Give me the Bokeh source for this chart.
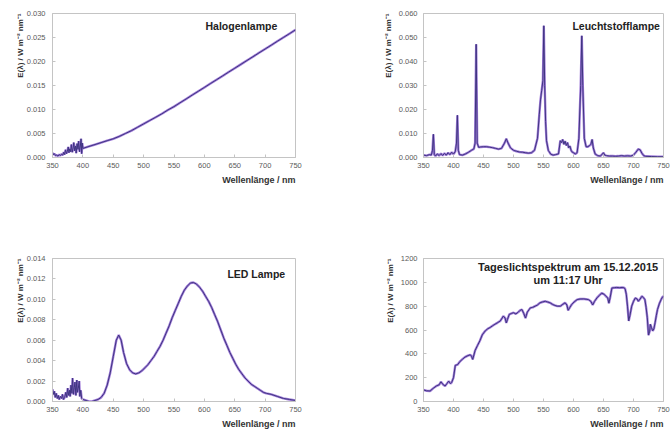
from bokeh.plotting import figure
from bokeh.layouts import column, row
from bokeh.models import FixedTicker, NumeralTickFormatter, Label, Title, Range1d
from bokeh.embed import file_html
from bokeh.resources import INLINE

FONT = "Liberation Sans"

# ---------------- data ----------------
wavelength_ticks = [350, 400, 450, 500, 550, 600, 650, 700, 750]

halogen_nm = [350, 351.5, 353, 355, 357, 359, 361, 363, 365, 367, 368.5, 370, 371.5, 373,
              374.5, 376, 377, 378.5, 380, 381, 382.5, 384, 385, 386.5, 388, 389, 390.5,
              392, 393, 394.5, 396, 397, 398, 399, 400, 410, 420, 430,
              440, 450, 460, 470, 480, 490, 500, 510, 520, 530, 540, 550, 560, 570,
              580, 590, 600, 610, 620, 630, 640, 650, 660, 670, 680, 690, 700, 710,
              720, 730, 740, 750]
halogen_E = [0.0010, 0.0006, 0.0008, 0.0004, 0.0005, 0.0003, 0.0006, 0.0004, 0.0007,
             0.0005, 0.0011, 0.0006, 0.0016, 0.0008, 0.0013, 0.0022, 0.0010, 0.0018,
             0.0012, 0.0027, 0.0011, 0.0020, 0.0031, 0.0014, 0.0024, 0.0009, 0.0029,
             0.0017, 0.0034, 0.0012, 0.0026, 0.0039, 0.0008, 0.0030, 0.0019, 0.0023,
             0.0027, 0.0031, 0.0035, 0.0039, 0.0044, 0.0050, 0.0056, 0.0063, 0.0070,
             0.0077, 0.0084, 0.0091, 0.0099, 0.0106, 0.0114, 0.0122, 0.0130, 0.0138,
             0.0146, 0.0154, 0.0162, 0.0170, 0.0178, 0.0186, 0.0194, 0.0202, 0.0210,
             0.0218, 0.0226, 0.0234, 0.0242, 0.0250, 0.0258, 0.0266]

fluor_nm = [350, 355, 360, 363, 365, 366.5, 368, 370, 373, 376, 379, 382, 385, 388, 391,
            394, 397, 400, 403, 405, 406.5, 408, 410, 415, 420, 425, 430, 434, 436,
            437.8, 439.5, 442, 445, 450, 455, 460, 465, 470, 475, 480, 485, 488, 491,
            495, 500, 505, 510, 515, 520, 525, 530, 535, 540, 543, 545, 547, 549,
            550.5, 552, 553.5, 555, 558, 562, 566, 570, 575, 578, 580, 582, 584, 586,
            588, 590, 592, 594, 596, 598, 600, 603, 606, 609, 612, 613.8, 615.5, 618,
            621, 624, 627, 629, 631, 633, 636, 640, 645, 650, 652, 655, 660, 665, 670,
            675, 680, 685, 690, 695, 700, 704, 708, 711, 714, 717, 720, 730, 740, 750]
fluor_E = [0.0010, 0.0008, 0.0012, 0.0010, 0.0030, 0.0097, 0.0012, 0.0006, 0.0015,
           0.0008, 0.0016, 0.0009, 0.0017, 0.0010, 0.0020, 0.0012, 0.0022, 0.0014,
           0.0025, 0.0060, 0.0176, 0.0030, 0.0012, 0.0010, 0.0015, 0.0022, 0.0030,
           0.0036, 0.0060, 0.0472, 0.0060, 0.0042, 0.0044, 0.0045, 0.0045, 0.0043,
           0.0041, 0.0038, 0.0035, 0.0038, 0.0060, 0.0078, 0.0060, 0.0040, 0.0030,
           0.0026, 0.0023, 0.0022, 0.0020, 0.0018, 0.0020, 0.0030, 0.0080, 0.0180,
           0.0240, 0.0280, 0.0320, 0.0549, 0.0300, 0.0150, 0.0070, 0.0030, 0.0014,
           0.0010, 0.0012, 0.0015, 0.0070, 0.0062, 0.0075, 0.0055, 0.0068, 0.0050,
           0.0062, 0.0040, 0.0048, 0.0030, 0.0022, 0.0020, 0.0015, 0.0020, 0.0080,
           0.0300, 0.0507, 0.0300, 0.0080, 0.0045, 0.0045, 0.0050, 0.0055, 0.0075,
           0.0040, 0.0015, 0.0008, 0.0006, 0.0020, 0.0010, 0.0008, 0.0006, 0.0006,
           0.0005, 0.0006, 0.0008, 0.0006, 0.0007, 0.0006, 0.0010, 0.0022, 0.0035,
           0.0032, 0.0018, 0.0008, 0.0005, 0.0004, 0.0003, 0.0003]

led_nm = [350, 351.5, 353, 354.5, 356, 358, 359.5, 361, 363, 365, 366.5, 368, 370,
          372, 373.5, 375, 376.5, 378, 379, 380.5, 382, 383, 384.5, 386, 387, 388.5,
          390, 391, 392.5, 394, 395, 396.5, 398, 400, 405, 410, 415, 420,
          425, 430, 435, 440, 445, 450, 455, 459, 463, 467, 472, 477, 482, 487, 492,
          497, 502, 507, 512, 517, 522, 527, 532, 537, 542, 547, 552, 557, 562, 567,
          572, 577, 582, 587, 592, 597, 602, 607, 612, 617, 622, 627, 632, 637, 642,
          647, 652, 657, 662, 667, 672, 677, 682, 687, 692, 697, 702, 710, 720, 730,
          740, 750]
led_E = [0.0012, 0.0007, 0.0010, 0.0004, 0.0008, 0.0003, 0.0006, 0.0002, 0.0005,
         0.0003, 0.0007, 0.0002, 0.0004, 0.0009, 0.0004, 0.0013, 0.0006, 0.0011,
         0.0005, 0.0016, 0.0008, 0.0023, 0.0007, 0.0014, 0.0019, 0.0006, 0.0021,
         0.0009, 0.0013, 0.0020, 0.0005, 0.0011, 0.0003, 0.0002, 0.0001,
         0.0000, 0.0000, 0.0001, 0.0002, 0.0004, 0.0008, 0.0016, 0.0028, 0.0044,
         0.0060, 0.0065, 0.0060, 0.0048, 0.0037, 0.0031, 0.0028, 0.0027, 0.0028,
         0.0030, 0.0033, 0.0036, 0.0040, 0.0044, 0.0049, 0.0054, 0.0060, 0.0067,
         0.0074, 0.0082, 0.0089, 0.0096, 0.0103, 0.0109, 0.0113, 0.0116, 0.01165,
         0.0115, 0.0112, 0.0108, 0.0103, 0.0098, 0.0092, 0.0085, 0.0078, 0.0070,
         0.0062, 0.0055, 0.0048, 0.0042, 0.0036, 0.0031, 0.0027, 0.0023, 0.0020,
         0.0017, 0.0015, 0.0013, 0.0011, 0.0009, 0.0008, 0.0007, 0.0005, 0.0003,
         0.0002, 0.0001]

day_nm = [350, 355, 361, 366, 372, 376, 379, 383, 386, 389, 392, 395, 397, 400, 403,
          407, 411, 415, 419, 424, 428, 430, 432, 434, 436, 440, 444, 448, 453, 457,
          461, 465, 469, 473, 478, 481, 483, 486, 488, 490, 493, 497, 500, 504, 508,
          511, 514, 517, 520, 523, 528, 532, 536, 540, 544, 548, 553, 557, 561, 565,
          569, 573, 578, 582, 586, 589, 591, 594, 597, 601, 606, 611, 617, 621, 625,
          629, 632, 635, 639, 643, 647, 651, 654, 657, 659, 661, 664, 668, 672, 677,
          681, 684, 686, 688, 690, 692, 694, 697, 700, 703, 706, 708, 711, 714, 717,
          719, 721, 723, 725, 727, 728, 730, 732, 734, 736, 738, 740, 743, 746, 748,
          750]
day_E = [97, 90, 88, 110, 132, 140, 165, 140, 130, 150, 171, 150, 160, 200, 303, 310,
         337, 355, 372, 385, 392, 380, 353, 390, 428, 470, 510, 560, 593, 610, 621, 635,
         648, 660, 676, 700, 717, 700, 660, 690, 731, 740, 745, 735, 750, 765, 772, 740,
         700, 750, 786, 790, 800, 810, 828, 835, 841, 835, 828, 815, 806, 800, 800, 815,
         828, 810, 765, 790, 814, 835, 855, 860, 861, 858, 855, 840, 810, 840, 869, 890,
         910, 900, 883, 870, 825, 870, 952, 955, 957, 955, 957, 955, 946, 900, 800, 676,
         720, 800, 840, 869, 860, 841, 860, 883, 870, 855, 790, 703, 557, 590, 648, 620,
         593, 610, 662, 720, 772, 820, 855, 875, 883]

y_label = "E(λ) / W m⁻² nm⁻¹"
x_label = "Wellenlänge / nm"


def panel(xs, ys, y_end, y_ticks, y_fmt, left, top, right, bottom, fw, fh,
          ylabel_standoff, tick_gap):
    p = figure(width=left + fw + right, height=top + fh + bottom,
               frame_width=fw, frame_height=fh,
               min_border_left=left, min_border_right=right,
               min_border_top=top, min_border_bottom=bottom,
               x_range=Range1d(350, 750), y_range=Range1d(0, y_end),
               output_backend="svg", toolbar_location=None)
    p.grid.visible = False
    p.outline_line_color = "#c4c4c4"
    p.background_fill_color = "white"
    p.border_fill_color = "white"

    for ax in (p.xaxis[0], p.yaxis[0]):
        ax.axis_line_color = "#c4c4c4"
        ax.major_tick_line_color = "#c4c4c4"
        ax.major_tick_in = 3
        ax.major_tick_out = 0
        ax.minor_tick_line_color = None
        ax.major_label_text_font = FONT
        ax.major_label_text_font_size = "7.5px"
        ax.major_label_text_color = "#5a5a5a"
    p.xaxis.major_label_standoff = 5
    p.yaxis.major_label_standoff = tick_gap
    p.xaxis.ticker = FixedTicker(ticks=wavelength_ticks)
    p.yaxis.ticker = FixedTicker(ticks=y_ticks)
    p.yaxis.formatter = NumeralTickFormatter(format=y_fmt)

    p.add_layout(Title(text=x_label, align="right", text_font=FONT,
                       text_font_size="9px", text_font_style="bold",
                       text_color="#333333", standoff=5), "below")
    # vertical caption, aligned to the top end of the axis
    p.add_layout(Title(text=y_label, align="right", text_font=FONT,
                       text_font_size="8px", text_font_style="bold",
                       text_color="#333333", standoff=ylabel_standoff), "left")

    p.line(xs, ys, line_color="#8a5cd0", line_width=2.4, line_alpha=0.8)
    p.line(xs, ys, line_color="#3f3580", line_width=1.0)
    return p


def tag(p, x, y, text, align="right", size="10.5px"):
    p.add_layout(Label(x=x, y=y, text=text, text_align=align,
                       text_baseline="middle", text_font=FONT,
                       text_font_size=size, text_font_style="bold",
                       text_color="#222222"))


p1 = panel(halogen_nm, halogen_E, 0.030,
           [0, 0.005, 0.010, 0.015, 0.020, 0.025, 0.030], "0.000",
           52, 13, 40, 59, 243, 144, -3, 7)
tag(p1, 720, 0.0273, "Halogenlampe")

p2 = panel(fluor_nm, fluor_E, 0.060,
           [0, 0.010, 0.020, 0.030, 0.040, 0.050, 0.060], "0.000",
           88, 13, 8, 59, 240, 144, 5, 6)
tag(p2, 744, 0.055, "Leuchtstofflampe")

p3 = panel(led_nm, led_E, 0.014,
           [0, 0.002, 0.004, 0.006, 0.008, 0.010, 0.012, 0.014], "0.000",
           52, 42, 40, 32, 243, 143, -3, 7)
tag(p3, 733, 0.0125, "LED Lampe")

p4 = panel(day_nm, day_E, 1200,
           [0, 200, 400, 600, 800, 1000, 1200], "0",
           88, 42, 8, 32, 240, 143, 5, 6)
tag(p4, 591, 1125, "Tageslichtspektrum am 15.12.2015", align="center", size="11px")
tag(p4, 591, 1018, "um 11:17 Uhr", align="center", size="11px")

layout = column(row(p1, p2), row(p3, p4))

with open("out.html", "w") as f:
    f.write(file_html(layout, INLINE))
